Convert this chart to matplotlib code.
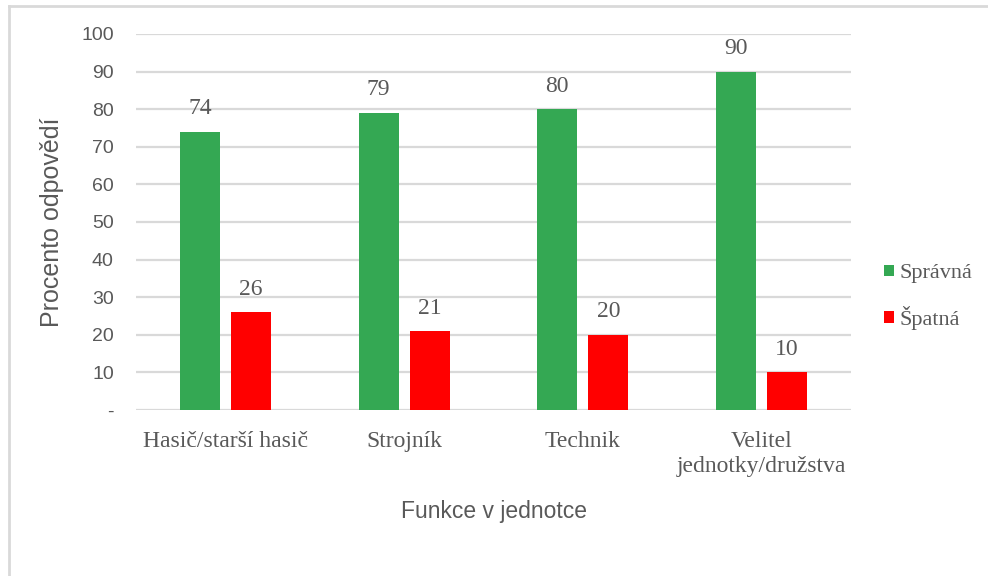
import matplotlib
matplotlib.use("Agg")
import matplotlib.pyplot as plt
import numpy as np
from matplotlib.patches import Patch
from matplotlib.lines import Line2D

categories = ["Hasič/starší hasič", "Strojník", "Technik", "Velitel\njednotky/družstva"]
spravna = [74, 79, 80, 90]
spatna = [26, 21, 20, 10]
series_names = ["Správná", "Špatná"]
y_ticks = [0, 10, 20, 30, 40, 50, 60, 70, 80, 90, 100]
y_tick_labels = ["-", "10", "20", "30", "40", "50", "60", "70", "80", "90", "100"]
x_label = "Funkce v jednotce"
y_label = "Procento odpovědí"

GREEN = "#34A853"
RED = "#FF0000"
TXT = "#595959"
GRID = "#D9D9D9"
SANS = ["Liberation Sans", "DejaVu Sans"]
SERIF = ["Liberation Serif", "DejaVu Serif"]

fig = plt.figure(figsize=(9.88, 5.76), dpi=100)
ax = fig.add_axes([136/988, 1-410/576, (851-136)/988, (410-34)/576])

x = np.arange(len(categories))
w = 0.224
off = 0.143
b1 = ax.bar(x - off, spravna, w, color=GREEN, zorder=3)
b2 = ax.bar(x + off, spatna, w, color=RED, zorder=3)

for bars, vals in ((b1, spravna), (b2, spatna)):
    for r, v in zip(bars, vals):
        ax.annotate(str(v), (r.get_x() + r.get_width()/2, v), xytext=(0, 9),
                    textcoords="offset points", ha="center", va="bottom",
                    fontsize=17, family=SERIF, color=TXT)

ax.set_xlim(-0.5, len(categories) - 0.5)
ax.set_ylim(0, 100)
ax.set_yticks(y_ticks)
ax.set_yticklabels(y_tick_labels, family=SANS, fontsize=14, color=TXT)
ax.set_xticks(x)
ax.set_xticklabels(categories, family=SERIF, fontsize=17, color=TXT, linespacing=1.25)
ax.tick_params(axis="both", length=0)
ax.tick_params(axis="y", pad=16)
ax.tick_params(axis="x", pad=15)
ax.grid(axis="y", color=GRID, linewidth=1.6, zorder=0)
ax.set_axisbelow(True)
for s in ax.spines.values():
    s.set_visible(False)

ax.set_xlabel(x_label, family=SANS, fontsize=16.5, color=TXT, labelpad=17)
ax.set_ylabel(y_label, family=SANS, fontsize=18, color=TXT, labelpad=12)

handles = [Patch(facecolor=GREEN, edgecolor="none"), Patch(facecolor=RED, edgecolor="none")]
leg = fig.legend(handles, series_names, loc="center left", bbox_to_anchor=(884/988, 1-297/576),
                 frameon=False, prop={"family": SERIF, "size": 16}, handlelength=0.45,
                 handleheight=0.45, handletextpad=0.25, labelspacing=1.0, borderpad=0,
                 borderaxespad=0)
for t in leg.get_texts():
    t.set_color(TXT)

# outer chart border (extends beyond the image on right and bottom)
fig.add_artist(Line2D([9/988, 1.0], [1-6/576, 1-6/576], transform=fig.transFigure,
                      color=GRID, linewidth=2))
fig.add_artist(Line2D([9/988, 9/988], [0, 1-6/576], transform=fig.transFigure,
                      color=GRID, linewidth=2))

fig.savefig("out.png", dpi=100, facecolor="white")
